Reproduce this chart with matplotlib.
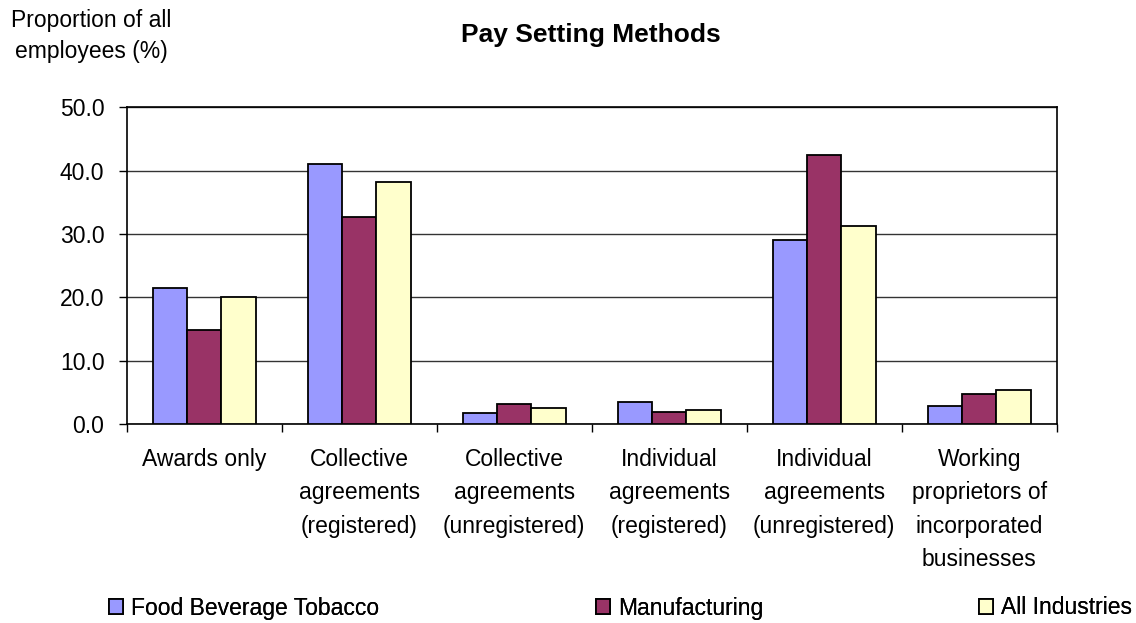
import numpy as np
import matplotlib
matplotlib.use("Agg")
import matplotlib.pyplot as plt

# Pay setting methods, share of employees (%)
categories = [
    "Awards only",
    "Collective\nagreements\n(registered)",
    "Collective\nagreements\n(unregistered)",
    "Individual\nagreements\n(registered)",
    "Individual\nagreements\n(unregistered)",
    "Working\nproprietors of\nincorporated\nbusinesses",
]
food_bev_tobacco = [21.4, 41.1, 1.7, 3.4, 29.0, 2.8]
manufacturing = [14.8, 32.7, 3.2, 1.9, 42.5, 4.8]
all_industries = [20.0, 38.2, 2.5, 2.2, 31.2, 5.4]

series_names = ["Food Beverage Tobacco", "Manufacturing", "All Industries"]
colors = ["#9999FF", "#993366", "#FFFFCC"]

plt.rcParams['font.family'] = ['Liberation Sans', 'DejaVu Sans']
FS = 16.5

fig = plt.figure(figsize=(11.36, 6.23), dpi=100)
ax = fig.add_axes([126.7 / 1136, 1 - 424 / 623, 930 / 1136, 316.7 / 623])

x = np.arange(len(categories))
w = 1 / 4.5
bars = []
for i, (vals, c) in enumerate(zip([food_bev_tobacco, manufacturing, all_industries], colors)):
    b = ax.bar(x + (i - 1) * w, vals, width=w, color=c, edgecolor="black",
               linewidth=1.3, zorder=3)
    bars.append(b)

ax.set_xlim(-0.5, len(categories) - 0.5)
ax.set_ylim(0, 50)
ax.set_yticks(np.arange(0, 51, 10))
ax.set_yticklabels([f"{v:.1f}" for v in np.arange(0, 51, 10)], fontsize=FS)
ax.yaxis.grid(True, color="#333333", linewidth=1.0, zorder=0)

ax.set_xticks(x)
ax.set_xticklabels(categories, fontsize=FS, linespacing=1.59, va="top")
ax.tick_params(axis="x", length=0, pad=17)
ax.set_xticks(np.arange(-0.5, len(categories)), minor=True)
ax.tick_params(axis="x", which="minor", length=6, width=1, direction="out")
ax.tick_params(axis="y", length=6, width=1, direction="out", pad=10)

for s in ax.spines.values():
    s.set_color("black")
    s.set_linewidth(1.2)

fig.text(591 / 1136, 1 - 35 / 623, "Pay Setting Methods", ha="center", va="center",
         fontsize=19, fontweight="bold")
fig.text(91 / 1136, 1 - 36 / 623, "Proportion of all\nemployees (%)", ha="center",
         va="center", fontsize=FS, linespacing=1.45)

# legend entries placed separately, as in the original
legend_x = [100, 587, 970]
for b, name, lx in zip(bars, series_names, legend_x):
    leg = fig.legend([b], [name], loc="center left",
                     bbox_to_anchor=(lx / 1136, 1 - 608 / 623),
                     frameon=False, fontsize=FS, handlelength=0.6,
                     handleheight=0.6, handletextpad=0.35, borderaxespad=0)
    fig.add_artist(leg)

fig.savefig("out.png", dpi=100)
